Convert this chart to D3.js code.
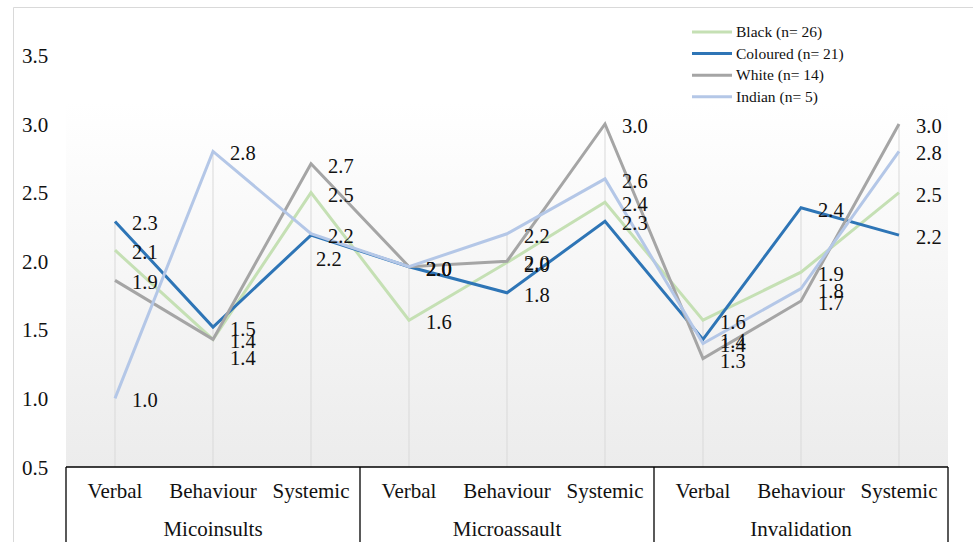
<!DOCTYPE html>
<html>
<head>
<meta charset="utf-8">
<script src="https://cdn.jsdelivr.net/npm/d3@7"></script>
<style>
  html, body { margin: 0; padding: 0; background: #ffffff; }
  svg { display: block; }
</style>
</head>
<body>
<svg id="chart" width="973" height="542"></svg>
<script>
// Sub-types of microaggression, grouped under three headings
const groups = ["Micoinsults", "Microassault", "Invalidation"];
const subtypes = ["Verbal", "Behaviour", "Systemic"];

// Mean scores per group (order: Micoinsults V/B/S, Microassault V/B/S, Invalidation V/B/S)
const black    = [2.08, 1.43, 2.50, 1.57, 1.99, 2.43, 1.57, 1.92, 2.50];
const coloured = [2.29, 1.52, 2.19, 1.96, 1.77, 2.29, 1.43, 2.39, 2.19];
const white    = [1.86, 1.43, 2.71, 1.96, 2.00, 3.00, 1.29, 1.71, 3.00];
const indian   = [1.00, 2.80, 2.20, 1.96, 2.20, 2.60, 1.40, 1.80, 2.80];

const seriesNames = ["Black (n= 26)", "Coloured (n= 21)", "White (n= 14)", "Indian (n= 5)"];
const yTicks = [0.5, 1.0, 1.5, 2.0, 2.5, 3.0, 3.5];

const seriesValues = [black, coloured, white, indian];
const colors = ["#c5e0b4", "#2e75b6", "#a5a5a5", "#b4c7e7"];

// Hand-placed offsets for labels that would otherwise collide: [series, point, dx, dy]
const labelNudges = [[1, 2, -12, 22], [2, 1, 0, 17]];

const FONT = "'Liberation Serif', 'Times New Roman', Tinos, serif";

const svg = d3.select("#chart");
const left = 66, right = 948, bottom = 467;

const cats = d3.range(groups.length * subtypes.length);
const x = d3.scaleBand().domain(cats).range([left, right]);
const xc = i => x(i) + x.bandwidth() / 2;
const y = d3.scaleLinear().domain([0.5, 3.5]).range([bottom, 55.4]);
const fmt = d3.format(".1f");

// Outer frame (left and top edges)
svg.append("path")
  .attr("d", "M13.5,542 L13.5,7.5 L973,7.5")
  .attr("fill", "none").attr("stroke", "#d9d9d9").attr("stroke-width", 1);

// Plot area background gradient
const defs = svg.append("defs");
const grad = defs.append("linearGradient").attr("id", "bg")
  .attr("x1", 0).attr("y1", 0).attr("x2", 0).attr("y2", 1);
grad.append("stop").attr("offset", "0%").attr("stop-color", "#ffffff");
grad.append("stop").attr("offset", "20%").attr("stop-color", "#ffffff");
grad.append("stop").attr("offset", "100%").attr("stop-color", "#ececec");
svg.append("rect")
  .attr("x", left).attr("y", 12).attr("width", right - left).attr("height", bottom - 12)
  .attr("fill", "url(#bg)");

// Drop lines from the highest point of each category to the axis
svg.append("g").selectAll("line").data(cats).join("line")
  .attr("x1", d => xc(d)).attr("x2", d => xc(d))
  .attr("y1", d => y(d3.max(seriesValues, s => s[d])))
  .attr("y2", bottom)
  .attr("stroke", "#d9d9d9").attr("stroke-width", 1);

// Y axis labels
const yAxis = d3.axisLeft(y).tickValues(yTicks).tickFormat(fmt).tickSize(0).tickPadding(0);
const yg = svg.append("g").attr("transform", "translate(22,0)").call(yAxis);
yg.attr("font-family", null).attr("font-size", null);
yg.select(".domain").remove();
yg.selectAll("text")
  .attr("text-anchor", "start").attr("x", 0).attr("dy", "0.34em")
  .style("font-family", FONT).style("font-size", "21px").attr("fill", "#111");

// Series lines
const line = d3.line().x((d, i) => xc(i)).y(d => y(d));
svg.append("g").selectAll("path").data(seriesValues).join("path")
  .attr("d", d => line(d))
  .attr("fill", "none")
  .attr("stroke", (d, i) => colors[i])
  .attr("stroke-width", 3)
  .attr("stroke-linejoin", "miter");

// Data labels
const nudge = (s, i) => {
  const n = labelNudges.find(v => v[0] === s && v[1] === i);
  return n ? [n[2], n[3]] : [0, 0];
};
seriesValues.forEach((vals, s) => {
  svg.append("g").selectAll("text").data(vals).join("text")
    .attr("x", (d, i) => xc(i) + 17 + nudge(s, i)[0])
    .attr("y", (d, i) => y(d) + 2 + nudge(s, i)[1])
    .attr("dy", "0.34em")
    .style("font-family", FONT).style("font-size", "20.5px").attr("fill", "#111")
    .text(d => fmt(d));
});

// Category table below the plot
const axisG = svg.append("g").attr("stroke", "#000").attr("stroke-width", 1.3);
axisG.append("line").attr("x1", left).attr("x2", right).attr("y1", bottom).attr("y2", bottom);
d3.range(groups.length + 1).forEach(g => {
  const gx = g < groups.length ? x(g * subtypes.length) : right;
  axisG.append("line").attr("x1", gx).attr("x2", gx).attr("y1", bottom).attr("y2", 542);
});

svg.append("g").selectAll("text").data(cats).join("text")
  .attr("x", d => xc(d)).attr("y", 498)
  .attr("text-anchor", "middle")
  .style("font-family", FONT).style("font-size", "21px").attr("fill", "#111")
  .text(d => subtypes[d % subtypes.length]);

svg.append("g").selectAll("text").data(groups).join("text")
  .attr("x", (d, g) => xc(g * subtypes.length + 1)).attr("y", 536)
  .attr("text-anchor", "middle")
  .style("font-family", FONT).style("font-size", "21px").attr("fill", "#111")
  .text(d => d);

// Legend
const lg = svg.append("g").selectAll("g").data(seriesNames).join("g")
  .attr("transform", (d, i) => `translate(692,${32 + i * 21.6})`);
lg.append("line").attr("x1", 0).attr("x2", 40).attr("y1", 0).attr("y2", 0)
  .attr("stroke", (d, i) => colors[i]).attr("stroke-width", 3);
lg.append("text").attr("x", 44).attr("y", 0).attr("dy", "0.34em")
  .style("font-family", FONT).style("font-size", "15.5px").attr("fill", "#111")
  .text(d => d);
</script>
</body>
</html>
